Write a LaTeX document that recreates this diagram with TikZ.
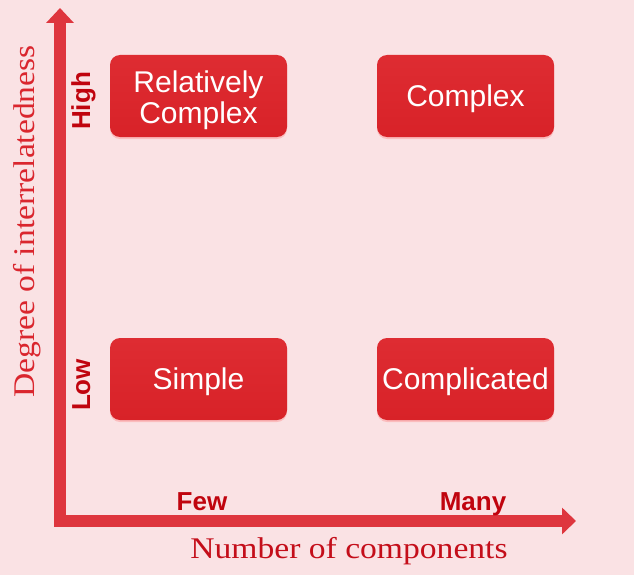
\documentclass[tikz,border=0pt]{standalone}
\usepackage{fontspec}
\setmainfont{Liberation Serif}
\newfontfamily\sansf{Liberation Sans}
\usetikzlibrary{arrows.meta,shadows}
\definecolor{bgpink}{RGB}{250,226,228}
\definecolor{boxred}{RGB}{216,34,40}
\definecolor{boxredtop}{RGB}{222,44,50}
\definecolor{axisred}{RGB}{222,54,62}
\definecolor{labred}{RGB}{192,4,14}
\definecolor{serifdark}{RGB}{196,14,26}
\definecolor{seriflight}{RGB}{218,38,46}
\tikzset{
  quad/.style={rounded corners=10pt, minimum width=177pt, minimum height=82pt,
    inner sep=0pt, top color=boxredtop, bottom color=boxred, draw=none,
    text=white, font=\sansf\fontsize{30}{31}\selectfont,
    drop shadow={opacity=0.25, shadow xshift=0pt, shadow yshift=-2pt, fill=red!70}},
  single/.style={text height=21.5pt, text depth=0pt},
  level/.style={text=labred, font=\sansf\bfseries\fontsize{26}{28}\selectfont, inner sep=0pt},
  axislab/.style={font=\fontsize{30}{32}\selectfont, inner sep=0pt},
  axisline/.style={line width=12pt, draw=axisred, line join=miter,
    {Triangle[width=27pt,length=15pt]}-{Triangle[width=26pt,length=14pt]}}
}
\begin{document}
\begin{tikzpicture}[x=1pt,y=-1pt]
\fill[bgpink] (0,0) rectangle (634,575);
\useasboundingbox (0,0) rectangle (634,575);
\coordinate (top) at (60,8);
\coordinate (origin) at (60,521);
\coordinate (right) at (576,521);
\draw[axisline] (top) -- (origin) -- (right);

\node[quad, align=center] (rc) at (198.5,96) {\rule{0pt}{30pt}Relatively\\Complex};
\node[quad, single] (cx) at (465.5,96) {Complex};
\node[quad, single] (sp) at (198.5,379) {Simple};
\node[quad, single] (cd) at (465.5,379) {Complicated};

\node[level, rotate=90, anchor=base] (high) at (90,101) {High};
\node[level, rotate=90, anchor=base] (low) at (90,385) {Low};
\node[level, anchor=base] (few) at (202,510) {Few};
\node[level, anchor=base] (many) at (473,510) {Many};

\node[axislab, text=serifdark, anchor=base] (xl) at (349,558) {\scalebox{1.12}[1]{Number of components}};
\node[axislab, text=seriflight, rotate=90, anchor=base] (yl) at (34,221.5) {\scalebox{1.12}[1]{Degree of interrelatedness}};
\end{tikzpicture}
\end{document}
